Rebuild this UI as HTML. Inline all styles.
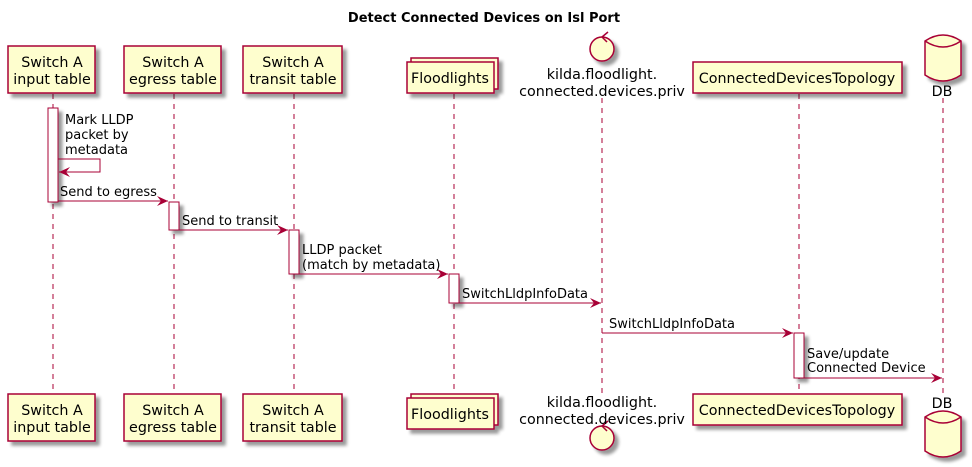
<!DOCTYPE html>
<html><head><meta charset="utf-8"><style>
html,body{margin:0;padding:0;background:#fff;width:972px;height:467px;overflow:hidden}
svg text{font-family:"DejaVu Sans","Liberation Sans",sans-serif;fill:#000}
</style></head><body>
<svg width="972" height="467" viewBox="0 0 972 467" xmlns="http://www.w3.org/2000/svg">
<defs>
<filter id="sh" x="-20%" y="-20%" width="150%" height="160%"><feGaussianBlur in="SourceAlpha" stdDeviation="1.5"/><feOffset dx="4" dy="4"/><feComponentTransfer><feFuncA type="linear" slope="0.4"/></feComponentTransfer><feMerge><feMergeNode/><feMergeNode in="SourceGraphic"/></feMerge></filter>
<marker id="ar" markerWidth="12" markerHeight="10" refX="11" refY="5" orient="auto" markerUnits="userSpaceOnUse"><path d="M0,0 L11,5 L0,10 L4,5 Z" fill="#A80036"/></marker>
</defs>
<text x="484" y="22" text-anchor="middle" font-size="13" font-weight="bold">Detect Connected Devices on Isl Port</text>
<g stroke="#A80036" stroke-width="1" stroke-dasharray="5,5">
<line x1="53" y1="94" x2="53" y2="394"/><line x1="174" y1="94" x2="174" y2="394"/><line x1="294" y1="94" x2="294" y2="394"/><line x1="454" y1="94" x2="454" y2="394"/><line x1="602" y1="98" x2="602" y2="394"/><line x1="799" y1="94" x2="799" y2="394"/><line x1="943" y1="98" x2="943" y2="394"/>
</g>
<g fill="#FEFECE" stroke="#A80036" stroke-width="1.5" filter="url(#sh)">
<rect x="8" y="46" width="87" height="47"/><rect x="124" y="46" width="97" height="47"/><rect x="243" y="46" width="99" height="47"/>
<rect x="411" y="58" width="87" height="31"/><rect x="407" y="62" width="87" height="31"/>
<circle cx="602" cy="49" r="12"/>
<rect x="693" y="62" width="209" height="31"/>
<path d="M925,41 Q943,29 961,41 L961,75 Q943,87 925,75 Z"/>
<rect x="8" y="394" width="87" height="47"/><rect x="124" y="394" width="97" height="47"/><rect x="243" y="394" width="99" height="47"/>
<rect x="411" y="394" width="87" height="31"/><rect x="407" y="398" width="87" height="31"/>
<circle cx="602" cy="438" r="12"/>
<rect x="693" y="394" width="209" height="31"/>
<path d="M925,417 Q943,405 961,417 L961,451 Q943,463 925,451 Z"/>
</g>
<g fill="none" stroke="#A80036" stroke-width="1.5">
<path d="M925,41 Q943,53 961,41"/><path d="M925,417 Q943,429 961,417"/>
<path d="M602,37 L608,32 M602,37 L607,42"/><path d="M602,426 L608,421 M602,426 L607,431"/>
</g>
<g fill="#fff" stroke="#A80036" stroke-width="1" filter="url(#sh)">
<rect x="48" y="108" width="10" height="94"/><rect x="169" y="202" width="10" height="28"/><rect x="289" y="230" width="10" height="44"/><rect x="449" y="274" width="10" height="29"/><rect x="794" y="333" width="10" height="45"/>
</g>
<g font-size="14.3" text-anchor="middle">
<text x="52" y="67">Switch A</text><text x="52" y="84">input table</text>
<text x="173" y="67">Switch A</text><text x="173" y="84">egress table</text>
<text x="293" y="67">Switch A</text><text x="293" y="84">transit table</text>
<text x="450" y="83">Floodlights</text>
<text x="602" y="79">kilda.floodlight.</text><text x="602" y="96">connected.devices.priv</text>
<text x="797" y="83">ConnectedDevicesTopology</text>
<text x="942" y="96">DB</text>
<text x="52" y="415">Switch A</text><text x="52" y="432">input table</text>
<text x="173" y="415">Switch A</text><text x="173" y="432">egress table</text>
<text x="293" y="415">Switch A</text><text x="293" y="432">transit table</text>
<text x="450" y="419">Floodlights</text>
<text x="602" y="407">kilda.floodlight.</text><text x="602" y="424">connected.devices.priv</text>
<text x="797" y="415">ConnectedDevicesTopology</text>
<text x="942" y="408">DB</text>
</g>
<g stroke="#A80036" stroke-width="1" fill="none" marker-end="url(#ar)">
<path d="M58,159 L100,159 L100,172 L59,172"/>
<line x1="58" y1="201" x2="168" y2="201"/>
<line x1="179" y1="230" x2="288" y2="230"/>
<line x1="299" y1="274" x2="448" y2="274"/>
<line x1="459" y1="303" x2="601" y2="303"/>
<line x1="602" y1="333" x2="793" y2="333"/>
<line x1="804" y1="378" x2="942" y2="378"/>
</g>
<g font-size="13">
<text x="65" y="124">Mark LLDP</text><text x="65" y="139">packet by</text><text x="65" y="154">metadata</text>
<text x="60" y="196">Send to egress</text>
<text x="182" y="225">Send to transit</text>
<text x="302" y="254">LLDP packet</text><text x="302" y="269">(match by metadata)</text>
<text x="462" y="298">SwitchLldpInfoData</text>
<text x="609" y="328">SwitchLldpInfoData</text>
<text x="807" y="358">Save/update</text><text x="807" y="372">Connected Device</text>
</g>
</svg>
</body></html>
